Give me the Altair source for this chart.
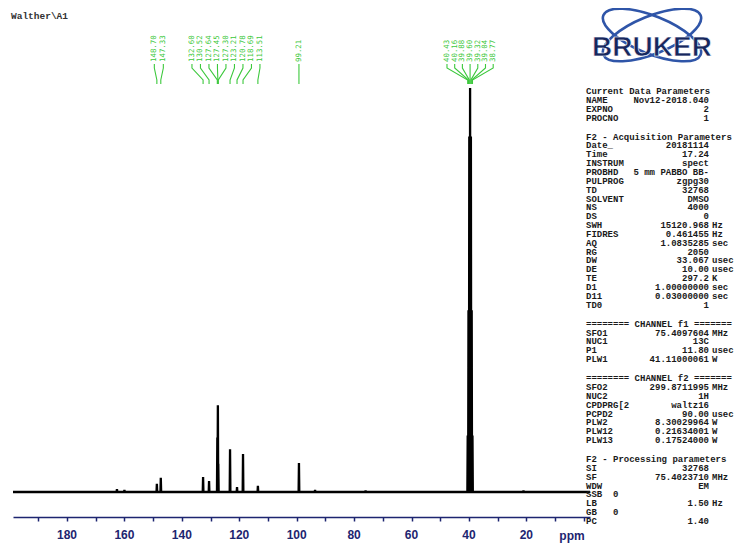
import altair as alt
import pandas as pd

# ---------------- data ----------------
title_text = "Walther\\A1"

# spectrum lines: chemical shift (ppm) and height (% of the solvent maximum)
peak_ppm = [148.70, 147.33, 132.60, 130.52, 127.64, 127.45, 127.30, 123.21,
            120.78, 118.69, 113.51, 99.21,
            40.43, 40.16, 39.88, 39.60, 39.32, 39.04, 38.77]
peak_height = [2.0, 3.5, 3.7, 2.7, 13.5, 21.5, 7.0, 10.6,
               1.2, 9.4, 1.5, 7.2,
               14, 45, 88, 100, 88, 45, 14]
# small baseline bumps
bump_ppm = [162.6, 160.0, 93.6, 76.0, 21.0]
bump_height = [0.7, 0.5, 0.5, 0.4, 0.4]

# peak-pick labels (groups)
label_group_a = ["148.70", "147.33"]
label_group_b = ["132.60", "130.52", "127.64", "127.45", "127.30", "123.21",
                 "120.78", "118.69", "113.51"]
label_group_c = ["99.21"]
label_group_d = ["40.43", "40.16", "39.88", "39.60", "39.32", "39.04", "38.77"]

tick_values = [190, 180, 170, 160, 150, 140, 130, 120, 110, 100, 90, 80, 70,
               60, 50, 40, 30, 20, 10, 0]
tick_label_values = [180, 160, 140, 120, 100, 80, 60, 40, 20]
axis_unit = "ppm"

sec1_title = "Current Data Parameters"
sec1_names = ["NAME", "EXPNO", "PROCNO"]
sec1_values = ["Nov12-2018.040", "2", "1"]
sec1_units = ["", "", ""]

sec2_title = "F2 - Acquisition Parameters"
sec2_names = ["Date_", "Time", "INSTRUM", "PROBHD", "PULPROG", "TD", "SOLVENT",
              "NS", "DS", "SWH", "FIDRES", "AQ", "RG", "DW", "DE", "TE", "D1",
              "D11", "TD0"]
sec2_values = ["20181114", "17.24", "spect", "5 mm PABBO BB-", "zgpg30", "32768",
               "DMSO", "4000", "0", "15120.968", "0.461455", "1.0835285", "2050",
               "33.067", "10.00", "297.2", "1.00000000", "0.03000000", "1"]
sec2_units = ["", "", "", "", "", "", "", "", "", "Hz", "Hz", "sec", "", "usec",
              "usec", "K", "sec", "sec", ""]

sec3_title = "======== CHANNEL f1 ======="
sec3_names = ["SFO1", "NUC1", "P1", "PLW1"]
sec3_values = ["75.4097604", "13C", "11.80", "41.11000061"]
sec3_units = ["MHz", "", "usec", "W"]

sec4_title = "======== CHANNEL f2 ======="
sec4_names = ["SFO2", "NUC2", "CPDPRG[2", "PCPD2", "PLW2", "PLW12", "PLW13"]
sec4_values = ["299.8711995", "1H", "waltz16", "90.00", "8.30029964",
               "0.21634001", "0.17524000"]
sec4_units = ["MHz", "", "", "usec", "W", "W", "W"]

sec5_title = "F2 - Processing parameters"
sec5_names = ["SI", "SF", "WDW", "SSB", "LB", "GB", "PC"]
sec5_values = ["32768", "75.4023710", "EM", "0", "1.50", "0", "1.40"]
sec5_units = ["", "MHz", "", "", "Hz", "", ""]
left_value_names = ["SSB", "GB"]

logo_text = "BRUKER"

# ---------------- layout constants (chart pixel space) ----------------
PX_PER_PPM = 2.871
REF_PPM, REF_X = 180.0, 59.0
X_LEFT, X_RIGHT = 5, 582


def px_to_ppm(x):
    return REF_PPM - (x - REF_X) / PX_PER_PPM


def ppm_to_px(p):
    return REF_X + (REF_PPM - p) * PX_PER_PPM


NAVY = "#1d2570"
GREEN = "#3cc83c"

x_scale = alt.Scale(domain=[px_to_ppm(X_LEFT), px_to_ppm(X_RIGHT)],
                    range=[X_LEFT, X_RIGHT], nice=False, zero=False)
y_scale = alt.Scale(domain=[0, 100], range=[484, 80], nice=False, zero=False)
x_axis = alt.Axis(values=tick_values, title=None, grid=False, labels=False,
                  domainColor=NAVY, domainWidth=1.5, tickColor=NAVY,
                  tickSize=4, tickWidth=1.5)

# ---------------- spectrum trace ----------------
lines = sorted(zip(peak_ppm + bump_ppm, peak_height + bump_height),
               key=lambda t: -t[0])
pts = [(px_to_ppm(X_LEFT), 0.0)]
hw = 0.12
for p, h in lines:
    pts += [(p + hw, 0.0), (p, h), (p - hw, 0.0)]
pts.append((px_to_ppm(X_RIGHT), 0.0))
spec_df = pd.DataFrame({"ppm": [a for a, _ in pts],
                        "intensity": [b for _, b in pts],
                        "idx": list(range(len(pts)))})

spectrum = alt.Chart(spec_df).mark_line(color="black", strokeWidth=2.3).encode(
    x=alt.X("ppm:Q", scale=x_scale, axis=x_axis),
    y=alt.Y("intensity:Q", scale=y_scale, axis=None),
    order="idx:Q",
)

# tick labels drawn through the same x scale
tick_df = pd.DataFrame({"ppm": tick_label_values,
                        "t": [str(v) for v in tick_label_values]})
tick_df["py"] = 527
tick_labels = alt.Chart(tick_df).mark_text(
    font="Liberation Sans", fontWeight="bold", fontSize=12, color=NAVY,
    align="center", baseline="middle").encode(
    x=alt.X("ppm:Q", scale=x_scale, axis=x_axis),
    y=alt.Y("py:Q", scale=None, axis=None), text="t:N")

# ---------------- peak labels and connectors ----------------
groups = [(label_group_a, 9.0), (label_group_b, 8.5), (label_group_c, 0.0),
          (label_group_d, 7.7)]
lab_rows, con_rows = [], []
LAB_BOTTOM = 54
for gi, (labs, sp) in enumerate(groups):
    centre = sum(ppm_to_px(float(l)) for l in labs) / len(labs)
    n = len(labs)
    for i, l in enumerate(labs):
        lx = centre + (i - (n - 1) / 2) * sp
        px_peak = ppm_to_px(float(l))
        key = f"{gi}-{i}"
        lab_rows.append({"ppm": px_to_ppm(lx), "py": LAB_BOTTOM, "label": l})
        for k, (xx, yy) in enumerate([(lx, 56), (lx, 60), (px_peak, 72), (px_peak, 76)]):
            con_rows.append({"ppm": px_to_ppm(xx), "py": yy, "key": key, "k": k})

lab_df = pd.DataFrame(lab_rows)
con_df = pd.DataFrame(con_rows)

peak_labels = alt.Chart(lab_df).mark_text(
    angle=270, align="left", baseline="middle", font="DejaVu Sans Mono",
    fontSize=7.4, color=GREEN).encode(
    x=alt.X("ppm:Q", scale=x_scale, axis=x_axis),
    y=alt.Y("py:Q", scale=None, axis=None),
    text="label:N")

connectors = alt.Chart(con_df).mark_line(color=GREEN, strokeWidth=1.1).encode(
    x=alt.X("ppm:Q", scale=x_scale, axis=x_axis),
    y=alt.Y("py:Q", scale=None, axis=None),
    detail="key:N", order="k:Q")

# ---------------- "ppm" unit label ----------------
unit_df = pd.DataFrame({"t": [axis_unit], "px": [564], "py": [528]})
unit_label = alt.Chart(unit_df).mark_text(
    font="Liberation Sans", fontWeight="bold", fontSize=12, color=NAVY,
    align="center", baseline="middle").encode(
    x=alt.X("px:Q", scale=None, axis=None),
    y=alt.Y("py:Q", scale=None, axis=None), text="t:N")

# ---------------- title ----------------
title_df = pd.DataFrame({"t": [title_text], "px": [3], "py": [8]})
title_mark = alt.Chart(title_df).mark_text(
    font="Liberation Mono", fontWeight="bold", fontSize=9.5, color="#333333",
    align="left", baseline="middle").encode(
    x=alt.X("px:Q", scale=None, axis=None),
    y=alt.Y("py:Q", scale=None, axis=None), text="t:N")

# ---------------- parameter block ----------------
sections = [(sec1_title, sec1_names, sec1_values, sec1_units),
            (sec2_title, sec2_names, sec2_values, sec2_units),
            (sec3_title, sec3_names, sec3_values, sec3_units),
            (sec4_title, sec4_names, sec4_values, sec4_units),
            (sec5_title, sec5_names, sec5_values, sec5_units)]
LINE = 8.85
GAP = 19.0
NAME_X = 578
VALUE_RIGHT_X = 701
LEFT_VALUE_X = 605
UNIT_X = 704
y = 83.0
name_rows, value_rows, left_rows, unit_rows = [], [], [], []
for si, (ttl, names, vals, units) in enumerate(sections):
    if si > 0:
        y += GAP - LINE
    name_rows.append({"t": ttl, "py": y})
    for nm, v, u in zip(names, vals, units):
        y += LINE
        name_rows.append({"t": nm, "py": y})
        if nm in left_value_names:
            left_rows.append({"t": v, "py": y})
        else:
            value_rows.append({"t": v, "py": y})
        if u:
            unit_rows.append({"t": u, "py": y})
    y += LINE


def text_layer(rows, x, align):
    df = pd.DataFrame(rows)
    df["px"] = x
    return alt.Chart(df).mark_text(
        font="Liberation Mono", fontWeight="bold", fontSize=9.0, color="#1a1a1a",
        align=align, baseline="middle").encode(
        x=alt.X("px:Q", scale=None, axis=None),
        y=alt.Y("py:Q", scale=None, axis=None), text="t:N")


param_names = text_layer(name_rows, NAME_X, "left")
param_values = text_layer(value_rows, VALUE_RIGHT_X, "right")
param_left = text_layer(left_rows, LEFT_VALUE_X, "left")
param_units = text_layer(unit_rows, UNIT_X, "left")

# ---------------- logo ----------------
ellipse_path = "M -1 0 A 1 0.36 0 1 1 1 0 A 1 0.36 0 1 1 -1 0 Z"
orbit_df = pd.DataFrame({"px": [644, 644], "py": [27, 27], "ang": [22, 338]})
orbits = alt.Chart(orbit_df).mark_point(
    shape=ellipse_path, filled=False, stroke="#2f55a8", strokeWidth=2.6,
    size=11000, opacity=1).encode(
    x=alt.X("px:Q", scale=None, axis=None),
    y=alt.Y("py:Q", scale=None, axis=None),
    angle=alt.Angle("ang:Q", scale=None))

logo_df = pd.DataFrame({"t": [logo_text], "px": [644], "py": [40]})
logo = alt.Chart(logo_df).mark_text(
    font="Liberation Sans", fontWeight="bold", fontSize=28, color="#17275e",
    align="center", baseline="middle", stroke="white", strokeWidth=0.6).encode(
    x=alt.X("px:Q", scale=None, axis=None),
    y=alt.Y("py:Q", scale=None, axis=None), text="t:N")

chart = alt.layer(
    spectrum, tick_labels, connectors, peak_labels, unit_label, title_mark,
    param_names, param_values, param_left, param_units, orbits, logo
).properties(
    width=726, height=509,
    autosize=alt.AutoSizeParams(type="none"),
    padding={"left": 0, "top": 0, "right": 0, "bottom": 28},
).configure_view(strokeWidth=0)

chart.save("out.html", embed_options={"renderer": "svg", "actions": False})
